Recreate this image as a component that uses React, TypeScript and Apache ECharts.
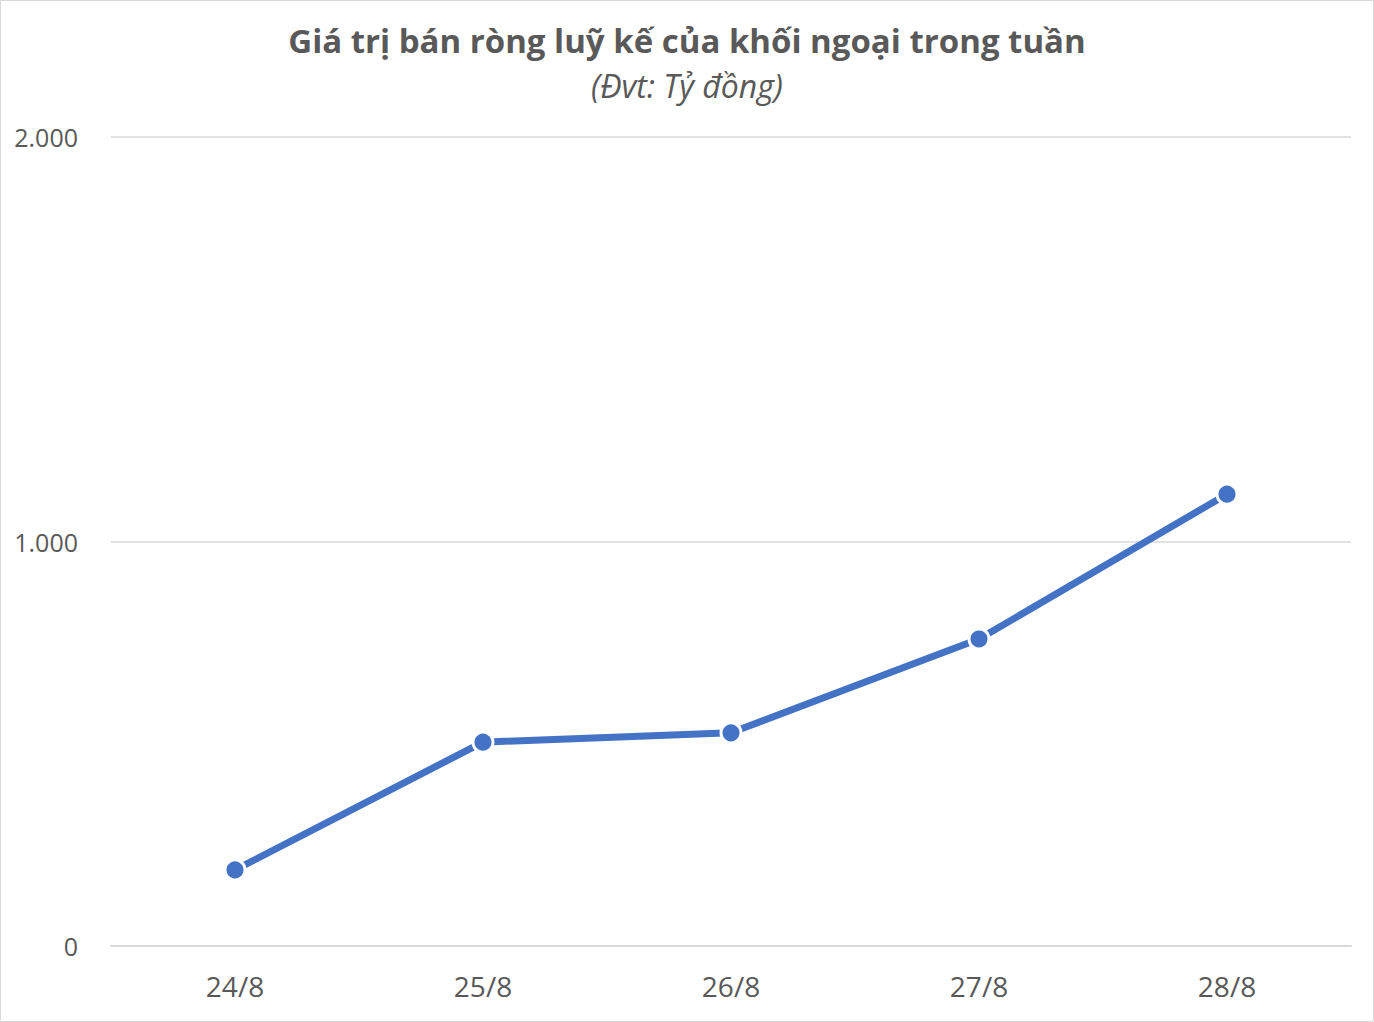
import { useEffect, useRef } from "react";
import * as echarts from "echarts";

const categories = ["24/8", "25/8", "26/8", "27/8", "28/8"];
const netSell = [188, 504, 527, 759, 1117];
const yTicks = [0, 1000, 2000];

const TITLE = "Giá trị bán ròng luỹ kế của khối ngoại trong tuần";
const SUBTITLE = "(Đvt: Tỷ đồng)";

const fmt = (v: number) => v.toLocaleString("de-DE");

export default function App() {
  const ref = useRef<HTMLDivElement>(null);

  useEffect(() => {
    if (!ref.current) return;
    const chart = echarts.init(ref.current, undefined, { renderer: "svg" });
    chart.setOption({
      animation: false,
      backgroundColor: "#ffffff",
      textStyle: { fontFamily: "Open Sans" },
      title: {
        text: TITLE,
        subtext: SUBTITLE,
        left: "center",
        top: 19,
        itemGap: 12,
        textStyle: { color: "#595959", fontSize: 33, fontWeight: "bold", fontFamily: "Open Sans" },
        subtextStyle: { color: "#595959", fontSize: 32, fontStyle: "italic", fontFamily: "Open Sans" },
      },
      graphic: [
        {
          type: "rect",
          shape: { x: 0.5, y: 0.5, width: 1373, height: 1021 },
          style: { fill: "none", stroke: "#d9d9d9", lineWidth: 1 },
          silent: true,
        },
      ],
      grid: { left: 111, right: 23, top: 137, bottom: 76 },
      xAxis: {
        type: "category",
        data: categories,
        boundaryGap: true,
        axisLine: { show: true, lineStyle: { color: "#d9d9d9", width: 2 } },
        axisTick: { show: false },
        axisLabel: { color: "#595959", fontSize: 28, margin: 26 },
      },
      yAxis: {
        type: "value",
        min: yTicks[0],
        max: yTicks[yTicks.length - 1],
        interval: 1000,
        axisLine: { show: false },
        axisTick: { show: false },
        axisLabel: { color: "#595959", fontSize: 25, margin: 33, formatter: (v: number) => fmt(v) },
        splitLine: { lineStyle: { color: "#d9d9d9", width: 1.5 } },
      },
      series: [
        {
          type: "line",
          data: netSell,
          symbol: "circle",
          symbolSize: 20,
          lineStyle: { color: "#4472C4", width: 7 },
          itemStyle: { color: "#4472C4", borderColor: "#ffffff", borderWidth: 3 },
        },
      ],
    });
    return () => chart.dispose();
  }, []);

  return (
    <div
      ref={ref}
      style={{ position: "absolute", left: 0, top: 0, width: 1374, height: 1022 }}
    />
  );
}
